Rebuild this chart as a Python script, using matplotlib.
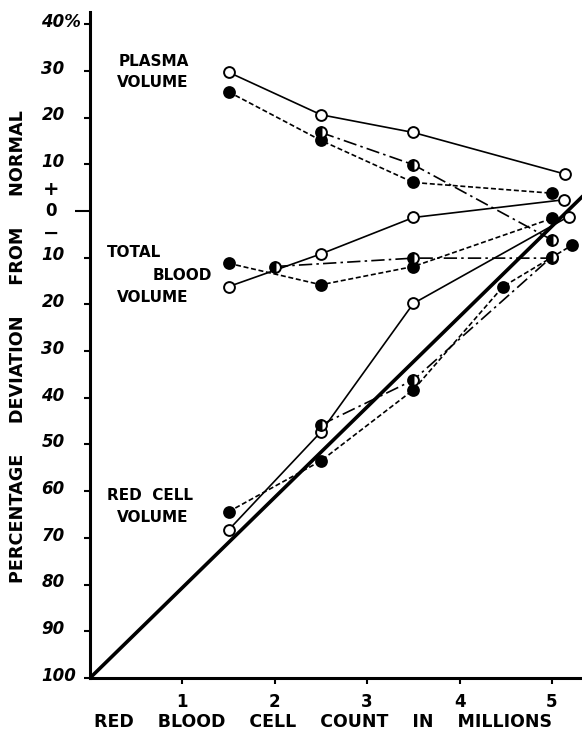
import matplotlib
matplotlib.use("Agg")
import matplotlib.pyplot as plt
import matplotlib.transforms as mtransforms

# ---- data ----
plasma_open_x = [1.5, 2.5, 3.5, 5.14]
plasma_open_y = [29.7, 20.6, 16.8, 7.9]
plasma_filled_x = [1.5, 2.5, 3.5, 5.0]
plasma_filled_y = [25.5, 15.1, 6.1, 3.8]
plasma_half_x = [2.5, 3.5, 5.0]
plasma_half_y = [16.8, 9.9, -6.2]

total_open_x = [1.5, 2.5, 3.5, 5.13]
total_open_y = [-16.2, -9.2, -1.4, 2.4]
total_filled_x = [1.5, 2.5, 3.5, 5.0]
total_filled_y = [-11.2, -15.8, -11.9, -1.6]
total_half_x = [2.0, 3.5, 5.0]
total_half_y = [-11.9, -10.1, -10.1]

red_open_x = [1.5, 2.5, 3.5, 5.18]
red_open_y = [-68.3, -47.3, -19.8, -1.2]
red_filled_x = [1.5, 2.5, 3.5, 4.47, 5.22]
red_filled_y = [-64.4, -53.5, -38.3, -16.2, -7.3]
red_half_x = [2.5, 3.5, 5.0]
red_half_y = [-45.8, -36.2, -9.8]

diag_x = [0, 5.5]
diag_y = [-100, 6.4]

x_ticks = [1, 2, 3, 4, 5]
x_ticklabels = ["1", "2", "3", "4", "5"]
y_ticks = [40, 30, 20, 10, 0, -10, -20, -30, -40, -50, -60, -70, -80, -90, -100]
y_ticklabels = ["40%", "30", "20", "10", "", "10", "20", "30", "40", "50",
                "60", "70", "80", "90", "100"]

group_labels = [
    ("PLASMA", 0.31, 31.9),
    ("VOLUME", 0.29, 27.4),
    ("TOTAL", 0.18, -8.8),
    ("BLOOD", 0.68, -13.9),
    ("VOLUME", 0.29, -18.6),
    ("RED  CELL", 0.18, -61.0),
    ("VOLUME", 0.29, -65.7),
]

# ---- figure ----
fig = plt.figure(figsize=(5.82, 7.36), dpi=100)
ax = fig.add_axes([90 / 582, 58 / 736, 492 / 582, 666 / 736])
ax.set_xlim(0, 5.325)
ax.set_ylim(-100, 42.6)

lw = 1.2
ms = 7.8
short_dash = (0, (3.0, 1.6))
dash_dot = (0, (8, 2.5, 1.5, 2.5))

def open_series(x, y):
    ax.plot(x, y, color="black", lw=lw, ls="-", marker="o", ms=ms,
            mfc="white", mec="black", mew=1.4, zorder=3)

def filled_series(x, y):
    ax.plot(x, y, color="black", lw=lw, ls=short_dash, marker="o", ms=ms,
            mfc="black", mec="black", mew=1.4, zorder=3)

def half_series(x, y):
    ax.plot(x, y, color="black", lw=lw, ls=dash_dot, marker="o", ms=ms,
            fillstyle="left", mfc="black", mfcalt="white", mec="black",
            mew=1.4, zorder=4)

ax.plot(diag_x, diag_y, color="black", lw=2.6, zorder=2, solid_capstyle="butt")

open_series(plasma_open_x, plasma_open_y)
filled_series(plasma_filled_x, plasma_filled_y)
half_series(plasma_half_x, plasma_half_y)

open_series(total_open_x, total_open_y)
filled_series(total_filled_x, total_filled_y)
half_series(total_half_x, total_half_y)

open_series(red_open_x, red_open_y)
filled_series(red_filled_x, red_filled_y)
half_series(red_half_x, red_half_y)

for txt, gx, gy in group_labels:
    ax.text(gx, gy, txt, fontsize=11, fontweight="bold", ha="left",
            va="center", family="DejaVu Sans")

# spines
for s in ["top", "right"]:
    ax.spines[s].set_visible(False)
ax.spines["left"].set_linewidth(2.2)
ax.spines["bottom"].set_linewidth(2.2)

ax.set_xticks(x_ticks)
ax.set_xticklabels(x_ticklabels, fontsize=12, fontweight="bold")
ax.tick_params(axis="x", direction="out", length=4, width=1.5, pad=7)

ax.set_yticks(y_ticks)
ax.set_yticklabels(y_ticklabels, fontsize=12, fontweight="bold",
                   fontstyle="italic", ha="left")
ax.tick_params(axis="y", direction="out", length=4, width=1.5, pad=31)
lift = mtransforms.ScaledTranslation(0, 3 / 72, fig.dpi_scale_trans)
for lab in ax.get_yticklabels():
    lab.set_transform(lab.get_transform() + lift)
# longer zero tick
for t, v in zip(ax.yaxis.get_major_ticks(), y_ticks):
    if v == 0:
        t.tick1line.set_markersize(11)

trans = mtransforms.blended_transform_factory(fig.transFigure, ax.transData)
ax.text(51 / 582, 4.6, "+", transform=trans, fontsize=14, fontweight="bold",
        ha="center", va="center")
ax.text(51 / 582, 0, "0", transform=trans, fontsize=12, fontweight="bold",
        ha="center", va="center")
ax.text(51 / 582, -4.8, "\u2212", transform=trans, fontsize=14,
        fontweight="bold", ha="center", va="center")

fig.text(18 / 582, 1 - 347 / 736,
         "PERCENTAGE     DEVIATION     FROM     NORMAL",
         rotation=90, fontsize=12.7, fontweight="bold", ha="center",
         va="center")
fig.text(323 / 582, 1 - 722 / 736,
         "RED    BLOOD    CELL    COUNT    IN    MILLIONS",
         fontsize=12.5, fontweight="bold", ha="center", va="center")

fig.savefig("out.png", dpi=100)
